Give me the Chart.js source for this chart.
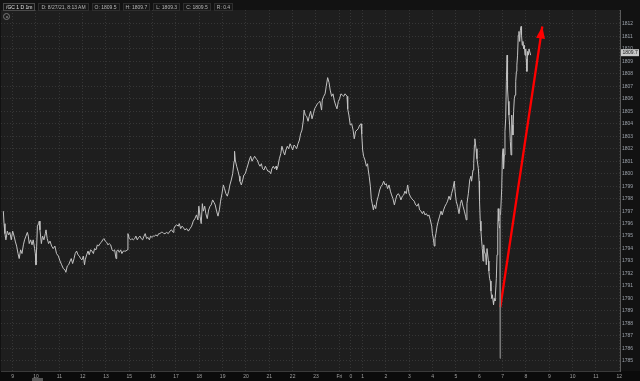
<!DOCTYPE html>
<html>
<head>
<meta charset="utf-8">
<script src="https://cdn.jsdelivr.net/npm/chart.js@4"></script>
<style>
  html, body { margin: 0; padding: 0; background: #101010; }
  #wrap { position: relative; width: 640px; height: 381px; overflow: hidden; }
  #hdr { position: absolute; left: 3px; top: 3px; height: 7px; font: 5px "Liberation Sans", Arial, sans-serif; color: #b8b8b8; white-space: nowrap; }
  #hdr span { display: inline-block; height: 6px; line-height: 6px; padding: 0 2px; margin-right: 3px; border: 1px solid #2e2e2e; background: #171717; }
  #hdr span.sym { border-color: #4a4a4a; color: #e0e0e0; }
  #icon { position: absolute; left: 3px; top: 13px; width: 5px; height: 5px; border: 1px solid #777; border-radius: 50%; }
  #icon:after { content: ""; position: absolute; left: 1.5px; top: 1.5px; width: 2px; height: 2px; border-radius: 50%; background: #777; }
  #thumb { position: absolute; left: 32px; top: 378px; width: 11px; height: 3px; background: #555; }
</style>
</head>
<body>
<div id="wrap">
  <canvas id="chart" width="640" height="381"></canvas>
  <div id="hdr"><span class="sym">/GC 1 D 1m</span><span>D: 8/27/21, 8:13 AM</span><span>O: 1809.5</span><span>H: 1809.7</span><span>L: 1809.3</span><span>C: 1809.5</span><span>R: 0.4</span></div>
  <div id="icon"></div>
  <div id="thumb"></div>
</div>
<script>
// session hours since 9:00 Thu (14:00-15:00 halt removed)
const times = [
  -0.40, -0.37, -0.33, -0.29, -0.23, -0.17, -0.12, -0.06, 0.00, 0.06, 0.11, 0.17, 0.23, 0.28, 0.34, 0.40,
  0.46, 0.51, 0.57, 0.63, 0.67, 0.71, 0.77, 0.83, 0.88, 0.94, 0.97, 1.00, 1.03, 1.06, 1.11, 1.14,
  1.17, 1.23, 1.28, 1.34, 1.40, 1.43, 1.48, 1.54, 1.60, 1.67, 1.74, 1.81, 1.88, 1.96, 2.03, 2.10,
  2.17, 2.24, 2.28, 2.34, 2.40, 2.46, 2.51, 2.57, 2.63, 2.68, 2.74, 2.80, 2.86, 2.91, 2.97, 3.03,
  3.08, 3.11, 3.17, 3.23, 3.28, 3.34, 3.40, 3.46, 3.51, 3.57, 3.63, 3.68, 3.74, 3.80, 3.86, 3.91,
  3.97, 4.03, 4.08, 4.14, 4.20, 4.26, 4.31, 4.37, 4.43, 4.46, 4.51, 4.57, 4.63, 4.68, 4.74, 4.80,
  4.86, 4.91, 4.94, 5.00, 5.06, 5.11, 5.17, 5.23, 5.28, 5.34, 5.40, 5.46, 5.51, 5.57, 5.63, 5.68,
  5.74, 5.80, 5.86, 5.91, 5.97, 6.03, 6.08, 6.14, 6.20, 6.26, 6.31, 6.37, 6.43, 6.48,
  6.53, 6.60, 6.67, 6.74, 6.81, 6.88, 6.91, 6.96, 7.03, 7.10, 7.14, 7.20, 7.26, 7.31, 7.38, 7.46,
  7.53, 7.60, 7.67, 7.74, 7.81, 7.88, 7.94, 7.98, 8.03, 8.08, 8.13, 8.17, 8.23, 8.28, 8.34, 8.40,
  8.46, 8.51, 8.57, 8.63, 8.68, 8.74, 8.80, 8.86, 8.91, 8.97, 9.03, 9.08, 9.14, 9.20, 9.26, 9.31,
  9.37, 9.43, 9.49, 9.51, 9.54, 9.60, 9.66, 9.71, 9.74, 9.80, 9.86, 9.91, 9.97, 10.03, 10.08, 10.14,
  10.20, 10.26, 10.31, 10.37, 10.43, 10.49, 10.54, 10.60, 10.66, 10.71, 10.77, 10.83, 10.88, 10.94, 11.00, 11.06,
  11.11, 11.17, 11.23, 11.29, 11.31, 11.37, 11.43, 11.49, 11.54, 11.60, 11.66, 11.71, 11.77, 11.83, 11.89, 11.94,
  12.00, 12.06, 12.11, 12.17, 12.23, 12.29, 12.34, 12.40, 12.46, 12.49, 12.54, 12.60, 12.66, 12.71, 12.77, 12.83,
  12.89, 12.94, 13.00, 13.06, 13.11,
  13.17, 13.24, 13.27, 13.33, 13.39, 13.44, 13.50, 13.56, 13.61, 13.67, 13.73, 13.78, 13.84, 13.90, 13.96, 14.01,
  14.07, 14.13, 14.19, 14.24, 14.30, 14.33, 14.36, 14.41, 14.47, 14.53, 14.59, 14.64, 14.70, 14.76, 14.81, 14.87,
  14.93, 14.96, 15.00, 15.04, 15.10, 15.16, 15.21, 15.24, 15.28, 15.33, 15.37, 15.41, 15.46, 15.50, 15.56, 15.61,
  15.67, 15.73, 15.79, 15.84, 15.90, 15.96, 16.01, 16.07, 16.13, 16.19, 16.24, 16.30, 16.36, 16.41, 16.47, 16.53,
  16.59, 16.64, 16.70, 16.76, 16.81, 16.87, 16.93, 16.99, 17.04, 17.10, 17.16, 17.21, 17.27, 17.33, 17.39, 17.44,
  17.50, 17.56, 17.61, 17.67, 17.73, 17.79, 17.84, 17.90, 17.96, 17.99, 18.03, 18.07, 18.10, 18.14, 18.19, 18.24,
  18.30, 18.36, 18.41, 18.47, 18.53, 18.59, 18.64, 18.70, 18.76, 18.81, 18.87, 18.93, 18.96, 19.01, 19.07, 19.13,
  19.19, 19.24, 19.30, 19.36, 19.41, 19.44, 19.47, 19.53, 19.59, 19.64, 19.67, 19.73, 19.76, 19.79,
  19.81, 19.86, 19.90, 19.96, 19.99, 20.01, 20.04, 20.07, 20.10, 20.13, 20.16, 20.19, 20.21, 20.27, 20.30, 20.33,
  20.39, 20.41, 20.44, 20.47, 20.50, 20.53, 20.56, 20.59, 20.61, 20.64, 20.67, 20.70, 20.73, 20.76, 20.79, 20.81,
  20.84, 20.87, 20.89, 20.91, 20.96, 20.99, 21.02, 21.04, 21.07, 21.10, 21.13, 21.16, 21.19, 21.21, 21.24, 21.27,
  21.30, 21.33, 21.36, 21.39, 21.41, 21.44, 21.47, 21.50, 21.53, 21.56, 21.59, 21.61, 21.64, 21.67, 21.70, 21.73,
  21.76, 21.79, 21.81, 21.84, 21.87, 21.90, 21.93, 21.96, 21.99, 22.01, 22.04, 22.07, 22.10, 22.13, 22.20
];
const prices = [
  1797.0, 1796.0, 1795.2, 1794.7, 1795.4, 1795.1, 1795.3, 1794.7, 1795.4, 1795.0, 1794.6, 1794.2, 1793.6, 1793.2, 1793.9, 1793.6,
  1794.3, 1794.7, 1795.0, 1795.3, 1795.0, 1794.4, 1794.7, 1794.3, 1794.7, 1794.0, 1793.6, 1792.7, 1794.2, 1795.8, 1796.0, 1796.2,
  1795.5, 1794.4, 1795.0, 1794.7, 1795.2, 1795.5, 1794.8, 1794.4, 1794.6, 1794.2, 1794.0, 1794.2, 1793.6, 1793.4, 1793.0, 1792.7,
  1792.4, 1792.3, 1792.1, 1792.6, 1792.7, 1793.0, 1793.2, 1792.8, 1793.2, 1793.6, 1793.8, 1793.5, 1793.4, 1793.2, 1793.1, 1793.4,
  1792.7, 1793.1, 1793.5, 1793.8, 1793.5, 1793.9, 1793.8, 1793.6, 1794.0, 1793.9, 1794.3, 1794.2, 1794.4, 1794.5, 1794.7, 1794.8,
  1794.6, 1794.5, 1794.3, 1794.4, 1794.3, 1793.9, 1793.8, 1793.9, 1793.2, 1793.8, 1793.9, 1793.7, 1793.9, 1793.6, 1793.8, 1793.8,
  1793.8, 1793.9, 1795.2, 1794.8, 1794.7, 1794.8, 1794.7, 1794.8, 1795.0, 1794.7, 1794.9, 1795.0, 1794.8, 1794.7, 1795.0, 1795.2,
  1794.8, 1794.9, 1794.7, 1795.0, 1794.9, 1795.0, 1795.0, 1795.1, 1795.0, 1795.2, 1795.2, 1795.3, 1795.3, 1795.2,
  1795.2, 1795.3, 1795.2, 1795.4, 1795.5, 1795.3, 1795.6, 1795.8, 1795.9, 1795.8, 1796.0, 1795.6, 1795.8, 1795.7, 1795.5, 1795.6,
  1795.4, 1795.6, 1795.8, 1796.2, 1796.4, 1796.7, 1796.3, 1797.4, 1796.6, 1796.0, 1797.6, 1797.0, 1797.4, 1796.8, 1796.4, 1797.1,
  1797.4, 1797.5, 1797.9, 1797.7, 1797.5, 1797.0, 1796.6, 1797.1, 1797.8, 1798.4, 1799.1, 1798.8, 1798.4, 1798.2, 1798.6, 1799.1,
  1799.5, 1800.0, 1801.0, 1801.8, 1801.1, 1800.6, 1800.2, 1799.8, 1799.4, 1799.1, 1799.5, 1799.9, 1800.0, 1800.4, 1800.7, 1801.1,
  1801.4, 1801.0, 1801.2, 1801.4, 1801.2, 1801.1, 1800.8, 1800.6, 1800.8, 1800.4, 1800.3, 1800.6, 1800.4, 1800.2, 1800.2, 1800.0,
  1800.4, 1800.6, 1800.4, 1800.6, 1800.3, 1800.6, 1801.2, 1801.6, 1802.2, 1801.8, 1801.5, 1801.9, 1802.2, 1802.0, 1802.4, 1802.2,
  1801.9, 1802.3, 1802.2, 1802.0, 1802.4, 1802.7, 1803.2, 1803.5, 1804.3, 1805.1, 1804.7, 1804.6, 1804.2, 1804.6, 1805.0, 1804.4,
  1804.8, 1805.2, 1805.4, 1805.6, 1805.7,
  1805.8, 1805.1, 1805.9, 1806.2, 1806.4, 1807.0, 1807.7, 1807.3, 1806.7, 1806.2, 1806.4, 1805.9, 1805.5, 1805.2, 1805.8, 1806.0,
  1806.4, 1806.3, 1806.2, 1806.4, 1806.3, 1806.2, 1805.2, 1804.7, 1803.9, 1804.0, 1803.5, 1802.8, 1803.4, 1803.5, 1803.6, 1803.9,
  1804.0, 1803.2, 1801.9, 1801.4, 1801.1, 1800.6, 1800.8, 1800.3, 1799.8, 1799.0, 1798.0, 1797.6, 1797.1, 1797.5, 1797.2, 1797.8,
  1798.2, 1798.7, 1799.0, 1799.1, 1799.4, 1799.1, 1799.2, 1798.8, 1799.1, 1798.6, 1798.3, 1798.0, 1797.5, 1797.9, 1798.3, 1798.4,
  1798.2, 1797.9, 1798.2, 1798.3, 1798.6, 1798.4, 1799.1, 1798.4, 1798.2, 1798.0, 1797.9, 1797.8, 1797.5, 1797.4, 1797.6, 1797.1,
  1797.0, 1796.8, 1797.0, 1796.7, 1796.8, 1796.6, 1796.7, 1796.3, 1795.8, 1795.2, 1794.8, 1794.2, 1794.8, 1795.2, 1795.8, 1796.2,
  1796.6, 1797.0, 1796.7, 1797.1, 1797.4, 1797.6, 1797.8, 1798.2, 1797.9, 1798.4, 1798.8, 1799.4, 1798.6, 1797.8, 1797.4, 1796.8,
  1797.6, 1797.9, 1797.4, 1797.0, 1796.6, 1796.3, 1797.6, 1798.4, 1799.5, 1799.8, 1799.4, 1800.3, 1800.8, 1802.3,
  1802.8, 1802.0, 1801.2, 1800.4, 1799.4, 1797.8, 1796.2, 1795.4, 1794.6, 1794.0, 1793.0, 1794.3, 1793.8, 1793.5, 1792.7, 1794.0,
  1793.0, 1792.2, 1791.6, 1791.4, 1790.6, 1790.0, 1790.3, 1789.8, 1789.5, 1790.0, 1789.8, 1790.6, 1791.6, 1793.5, 1795.4, 1797.2,
  1796.2, 1795.6, 1785.2, 1796.7, 1798.8, 1801.5, 1802.0, 1800.4, 1801.5, 1803.4, 1804.4, 1807.4, 1809.5, 1806.8, 1805.8, 1804.7,
  1803.9, 1802.6, 1801.5, 1804.7, 1803.9, 1803.1, 1805.0, 1806.0, 1806.3, 1807.4, 1808.2, 1808.7, 1809.5, 1811.1, 1811.4, 1810.6,
  1811.5, 1811.8, 1811.1, 1810.3, 1810.6, 1810.0, 1810.3, 1809.5, 1810.0, 1809.2, 1808.2, 1809.8, 1809.5, 1810.0, 1809.5
];

// red arrow drawn on top
const arrowTimes = [20.90, 22.70];
const arrowPrices = [1789.3, 1811.8];

const timeTicks = [0, 1, 2, 3, 4, 5, 6, 7, 8, 9, 10, 11, 12, 13, 14, 14.5, 15, 16, 17, 18, 19, 20, 21, 22, 23, 24, 25, 26];
const timeLabels = ['9', '10', '11', '12', '13', '15', '16', '17', '18', '19', '20', '21', '22', '23', 'Fri', '0',
  '1', '2', '3', '4', '5', '6', '7', '8', '9', '10', '11', '12'];
const priceTicks = [1785, 1786, 1787, 1788, 1789, 1790, 1791, 1792, 1793, 1794, 1795, 1796, 1797, 1798,
  1799, 1800, 1801, 1802, 1803, 1804, 1805, 1806, 1807, 1808, 1809, 1810, 1811, 1812];
const lastPrice = 1809.7;

const FONT = "'Liberation Sans', Arial, sans-serif";

// Dark backgrounds
const bgPlugin = {
  id: 'bg',
  beforeDraw(chart) {
    const { ctx, chartArea: a, width, height } = chart;
    ctx.save();
    ctx.fillStyle = '#121212';
    ctx.fillRect(0, 0, width, height);
    ctx.fillStyle = '#0b0b0b';
    ctx.fillRect(0, a.bottom, width, height - a.bottom);
    ctx.fillStyle = '#1e1e1e';
    ctx.fillRect(a.left, a.top, a.right - a.left, a.bottom - a.top);
    ctx.restore();
  }
};

// Arrow head on the red line
const arrowHead = {
  id: 'arrowHead',
  afterDatasetsDraw(chart) {
    const pts = chart.getDatasetMeta(1).data;
    const p0 = pts[0], p1 = pts[pts.length - 1];
    const ang = Math.atan2(p1.y - p0.y, p1.x - p0.x);
    const len = 12, half = 4.5;
    const bx = p1.x - len * Math.cos(ang), by = p1.y - len * Math.sin(ang);
    const ctx = chart.ctx;
    ctx.save();
    ctx.fillStyle = '#ff0000';
    ctx.beginPath();
    ctx.moveTo(p1.x, p1.y);
    ctx.lineTo(bx + half * Math.sin(ang), by - half * Math.cos(ang));
    ctx.lineTo(bx - half * Math.sin(ang), by + half * Math.cos(ang));
    ctx.closePath();
    ctx.fill();
    ctx.restore();
  }
};

// Last price tag on the right axis
const priceTag = {
  id: 'priceTag',
  afterDraw(chart) {
    const { ctx, chartArea: a } = chart;
    const y = chart.scales.y.getPixelForValue(lastPrice);
    ctx.save();
    ctx.fillStyle = '#c9c9c9';
    ctx.fillRect(a.right + 1, y - 3.5, 18, 7);
    ctx.fillStyle = '#202020';
    ctx.font = '5px ' + FONT;
    ctx.textBaseline = 'middle';
    ctx.fillText(lastPrice.toFixed(1), a.right + 2.5, y + 0.3);
    ctx.restore();
  }
};

new Chart(document.getElementById('chart'), {
  type: 'line',
  data: {
    datasets: [{
      data: times.map((t, i) => ({ x: t, y: prices[i] })),
      borderColor: '#c2c2c2',
      borderWidth: 1,
      pointRadius: 0,
      tension: 0,
      // the one-minute flash-crash bar is drawn dimmer
      segment: {
        borderColor: c => (c.p0.parsed.y < 1788 || c.p1.parsed.y < 1788) ? '#7a7a7a' : undefined
      }
    }, {
      data: arrowTimes.map((t, i) => ({ x: t, y: arrowPrices[i] })),
      borderColor: '#ff0000',
      borderWidth: 2.3,
      pointRadius: 0,
      tension: 0
    }]
  },
  options: {
    responsive: false,
    animation: false,
    layout: { padding: { top: 10, left: 1, right: 0, bottom: 0 } },
    plugins: { legend: { display: false }, tooltip: { enabled: false } },
    scales: {
      x: {
        type: 'linear',
        min: -0.50,
        max: 26.03,
        afterBuildTicks: axis => { axis.ticks = timeTicks.map(v => ({ value: v })); },
        afterFit: scale => { scale.height = 10; },
        grid: { color: '#363636', lineWidth: 1, drawTicks: false },
        border: { display: true, color: '#3a3a3a', dash: [1, 2] },
        ticks: {
          autoSkip: false, maxRotation: 0, minRotation: 0, padding: 3,
          color: '#a0a0a0', font: { family: FONT, size: 5 },
          callback: (v, i) => timeLabels[i]
        }
      },
      y: {
        position: 'right',
        min: 1784.19,
        max: 1813.12,
        afterBuildTicks: axis => { axis.ticks = priceTicks.map(v => ({ value: v })); },
        afterFit: scale => { scale.width = 20; },
        grid: { color: '#363636', lineWidth: 1, drawTicks: false },
        border: { display: true, color: '#5a5a5a', dash: [1, 2] },
        ticks: {
          padding: 2,
          color: '#9ea4ad', font: { family: FONT, size: 5 },
          callback: v => String(v)
        }
      }
    }
  },
  plugins: [bgPlugin, arrowHead, priceTag]
});
</script>
</body>
</html>
